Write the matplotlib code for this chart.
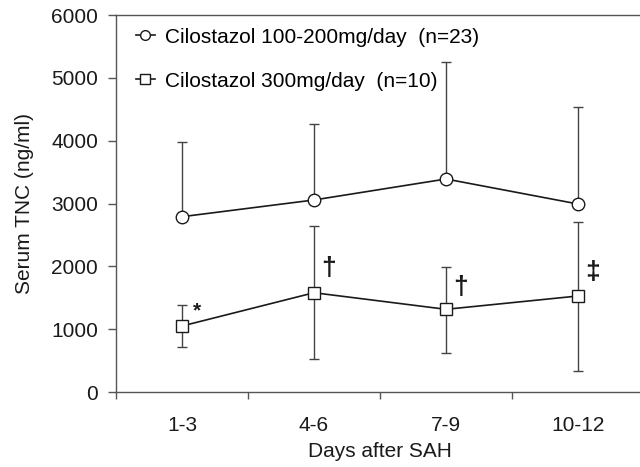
import numpy as np
import matplotlib
matplotlib.use("Agg")
import matplotlib.pyplot as plt

plt.rcParams['font.family'] = ['Liberation Sans', 'DejaVu Sans']

categories = ["1-3", "4-6", "7-9", "10-12"]
low_dose_mean = [2790, 3056, 3390, 2992]
low_dose_upper = [3973, 4260, 5257, 4541]
high_dose_mean = [1050, 1580, 1316, 1528]
high_dose_upper = [1380, 2642, 1994, 2711]
high_dose_lower = [721, 525, 625, 329]
sig_marks = ["*", "\u2020", "\u2020", "\u2021"]
sig_y = [1290, 1975, 1670, 1910]

label_low = "Cilostazol 100-200mg/day  (n=23)"
label_high = "Cilostazol 300mg/day  (n=10)"

fig = plt.figure(figsize=(6.4, 4.67), dpi=100)
ax = fig.add_axes([116/640, 1-392/467, 528/640, (392-15)/467])

x = np.arange(len(categories)) + 0.5
ecol = "#444444"
lcol = "#1a1a1a"

lm = np.array(low_dose_mean)
ax.errorbar(x, lm, yerr=[np.zeros_like(lm), np.array(low_dose_upper) - lm],
            fmt='none', ecolor=ecol, elinewidth=1.0, capsize=3.5, capthick=1.0, zorder=2)
hm = np.array(high_dose_mean)
ax.errorbar(x, hm, yerr=[hm - np.array(high_dose_lower), np.array(high_dose_upper) - hm],
            fmt='none', ecolor=ecol, elinewidth=1.0, capsize=3.5, capthick=1.0, zorder=2)

ax.plot(x, lm, '-', color=lcol, lw=1.2, marker='o', ms=9, mfc='white', mec=lcol, mew=1.0,
        label=label_low, zorder=3)
ax.plot(x, hm, '-', color=lcol, lw=1.2, marker='s', ms=9, mfc='white', mec=lcol, mew=1.0,
        label=label_high, zorder=3)

for xi, m, yv in zip(x, sig_marks, sig_y):
    ax.text(xi + 0.11, yv, m, ha='center', va='center',
            fontsize=15 if m == "*" else 19, fontweight='bold', color=lcol)

ax.set_xlim(0, 4)
ax.set_ylim(0, 6000)
ax.set_yticks(np.arange(0, 6001, 1000))
ax.set_xticks(np.arange(0, 5))
ax.set_xticklabels([])
ax.set_xticks(x, minor=True)
ax.set_xticklabels(categories, minor=True)
ax.tick_params(axis='x', which='minor', length=0, pad=17, labelsize=15, colors=lcol)
ax.tick_params(axis='x', which='major', length=5, width=1.0, color='#555555')
ax.tick_params(axis='y', length=6, width=1.0, color='#555555', labelsize=15, labelcolor=lcol, pad=7)

for s in ['left', 'bottom', 'top']:
    ax.spines[s].set_color('#555555')
    ax.spines[s].set_linewidth(1.0)
ax.spines['right'].set_visible(False)

ax.set_ylabel("Serum TNC (ng/ml)", fontsize=15, color=lcol, labelpad=12)
ax.set_xlabel("Days after SAH", fontsize=15, color=lcol, labelpad=5)

leg = ax.legend(loc='upper left', frameon=False, fontsize=15, handlelength=0.9,
                handletextpad=0.5, labelspacing=1.2, borderaxespad=0.3,
                bbox_to_anchor=(0.01, 1.005))
for h in leg.legend_handles:
    h.set_markersize(7)

fig.savefig("out.png", dpi=100)
